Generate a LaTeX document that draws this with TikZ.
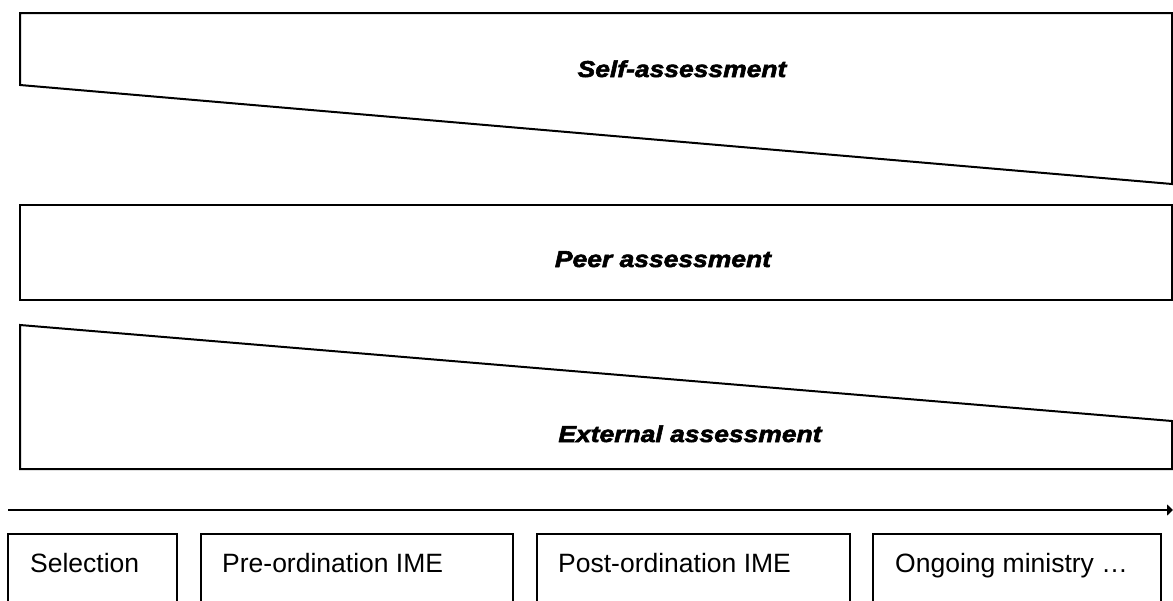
\documentclass[tikz,border=0pt]{standalone}
\usepackage{fontspec}
\setmainfont{Liberation Sans}
\newfontfamily\headfont{Liberation Sans}[FakeStretch=1.15,FakeBold=2.5]
\usetikzlibrary{arrows.meta}
\tikzset{
  band/.style={draw=black,line width=2pt,line join=miter},
  bandlabel/.style={anchor=base,inner sep=0pt,font=\headfont\bfseries\itshape\fontsize{23}{26}\selectfont},
  stagebox/.style={draw=black,line width=1.7pt},
  stagelabel/.style={anchor=base west,inner sep=0pt,font=\fontsize{26.5}{31}\selectfont},
  timeline/.style={line width=2pt,-{Triangle[length=6pt,width=11pt]}}
}
\begin{document}
\begin{tikzpicture}[x=1pt,y=-1pt]
\useasboundingbox (0,0) rectangle (1173,600);
\clip (0,0) rectangle (1173,600);
% Self-assessment wedge
\draw[band] (20,13) -- (1172,13) -- (1172,184) -- (20,85) -- cycle;
\node[bandlabel] (self) at (682,77) {Self-assessment};
% Peer assessment band
\draw[band] (20,205) rectangle (1172,300);
\node[bandlabel] (peer) at (663,267) {Peer assessment};
% External assessment wedge
\draw[band] (20,325) -- (1172,421) -- (1172,469) -- (20,469) -- cycle;
\node[bandlabel] (ext) at (690,442) {External assessment};
% Timeline
\coordinate (tstart) at (8,510);
\coordinate (tend) at (1173,510);
\draw[timeline] (tstart) -- (tend);
% Stage boxes
\draw[stagebox] (8,534) rectangle (177,620);
\node[stagelabel] (sel) at (30,572) {Selection};
\draw[stagebox] (201,534) rectangle (513,620);
\node[stagelabel] (pre) at (222,572) {Pre-ordination IME};
\draw[stagebox] (537,534) rectangle (850,620);
\node[stagelabel] (post) at (558,572) {Post-ordination IME};
\draw[stagebox] (873,534) rectangle (1161,620);
\node[stagelabel] (ongo) at (895,572) {Ongoing ministry …};
\end{tikzpicture}
\end{document}
